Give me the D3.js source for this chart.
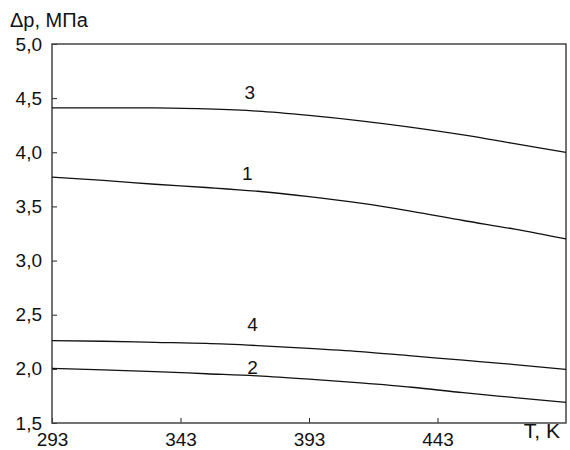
<!DOCTYPE html>
<html>
<head>
<meta charset="utf-8">
<script src="https://cdn.jsdelivr.net/npm/d3@7"></script>
<style>
  body { margin: 0; background: #fff; }
  text { font-family: "Liberation Sans", Arial, sans-serif; fill: #111; }
</style>
</head>
<body>
<div id="chart"></div>
<script>
// temperature, K
var temps = [293, 313, 333, 353, 373, 393, 413, 433, 453, 473, 493];
// pressure drop, MPa, curves 1..4
var curve1 = [3.77, 3.74, 3.705, 3.675, 3.64, 3.59, 3.53, 3.455, 3.37, 3.29, 3.20];
var curve2 = [2.005, 1.99, 1.975, 1.955, 1.935, 1.905, 1.87, 1.83, 1.78, 1.735, 1.69];
var curve3 = [4.41, 4.41, 4.41, 4.40, 4.38, 4.34, 4.29, 4.23, 4.16, 4.08, 4.00];
var curve4 = [2.26, 2.255, 2.245, 2.235, 2.215, 2.19, 2.16, 2.12, 2.08, 2.04, 1.995];
var curveNames = ["1", "2", "3", "4"];
// label anchor points (T, value)
var labelT = [369, 371, 370, 371];
var labelV = [3.81, 2.01, 4.55, 2.415];
var xTicks = [293, 343, 393, 443];
var yTicks = [1.5, 2.0, 2.5, 3.0, 3.5, 4.0, 4.5, 5.0];

var margin = { top: 44, right: 4, bottom: 27, left: 52 },
    width = 570 - margin.left - margin.right,
    height = 450 - margin.top - margin.bottom;

var svg = d3.select("#chart")
    .append("svg")
    .attr("width", 570)
    .attr("height", 450)
    .append("g")
    .attr("transform", "translate(" + margin.left + "," + margin.top + ")");

var x = d3.scaleLinear().domain([293, 493]).range([0, width]);
var y = d3.scaleLinear().domain([1.5, 5.0]).range([height, 0]);

// X axis, ticks inward
var xAxis = svg.append("g")
    .attr("transform", "translate(0," + height + ")")
    .call(d3.axisBottom(x).tickValues(xTicks).tickSize(-5)
        .tickFormat(d3.format("d")));
xAxis.select(".domain").remove();
xAxis.selectAll("line").attr("stroke", "#222");
xAxis.selectAll("text").attr("font-size", 19).attr("dy", null).attr("y", 23);

// Y axis, ticks inward
var yAxis = svg.append("g")
    .call(d3.axisLeft(y).tickValues(yTicks).tickSize(-5).tickPadding(10)
        .tickFormat(function (d) { return d3.format(".1f")(d).replace(".", ","); }));
yAxis.select(".domain").remove();
yAxis.selectAll("line").attr("stroke", "#222");
yAxis.selectAll("text").attr("font-size", 19);

// frame
svg.append("rect")
    .attr("width", width)
    .attr("height", height)
    .attr("fill", "none")
    .attr("stroke", "#444")
    .attr("stroke-width", 1.5);

var line = d3.line()
    .x(function (d) { return x(d[0]); })
    .y(function (d) { return y(d[1]); })
    .curve(d3.curveMonotoneX);

[curve1, curve2, curve3, curve4].forEach(function (vals) {
    svg.append("path")
        .datum(temps.map(function (t, i) { return [t, vals[i]]; }))
        .attr("fill", "none")
        .attr("stroke", "#111")
        .attr("stroke-width", 1.3)
        .attr("d", line);
});

curveNames.forEach(function (name, i) {
    svg.append("text")
        .attr("x", x(labelT[i]))
        .attr("y", y(labelV[i]))
        .attr("dy", "0.35em")
        .attr("text-anchor", "middle")
        .attr("font-size", 19)
        .text(name);
});

// axis titles
svg.append("text")
    .attr("x", -42)
    .attr("y", -17)
    .attr("font-size", 20)
    .text("Δp, МПа");

svg.append("text")
    .attr("x", width - 6)
    .attr("y", height + 15)
    .attr("text-anchor", "end")
    .attr("font-size", 21)
    .text("T, K");
</script>
</body>
</html>
